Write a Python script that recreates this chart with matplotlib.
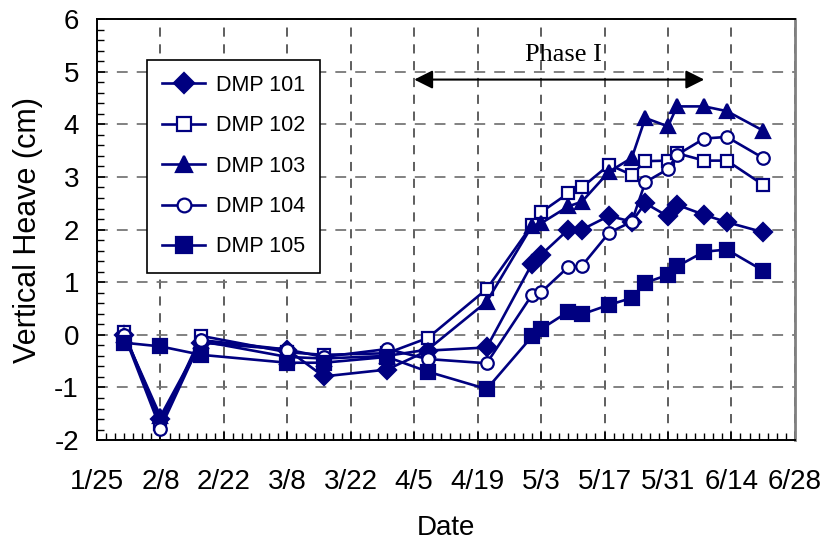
import numpy as np
import pandas as pd
import matplotlib
matplotlib.use("Agg")
import matplotlib.pyplot as plt
import matplotlib.dates as mdates
from matplotlib.ticker import FuncFormatter, MultipleLocator, FixedLocator

# survey dates (year 2001, non-leap)
dates = ["1/31", "2/8", "2/17", "3/8", "3/16", "3/30", "4/8", "4/21", "5/1", "5/3",
         "5/9", "5/12", "5/18", "5/23", "5/26", "5/31", "6/2", "6/8", "6/13", "6/21"]

dmp101 = [0.00, -1.60, -0.15, -0.28, -0.79, -0.66, -0.30, -0.24, 1.35, 1.52,
          2.00, 2.00, 2.26, 2.15, 2.50, 2.25, 2.47, 2.28, 2.14, 1.95]
dmp102 = [0.05, -1.70, -0.02, -0.33, -0.38, -0.35, -0.06, 0.87, 2.09, 2.33,
          2.69, 2.80, 3.23, 3.04, 3.30, 3.31, 3.45, 3.31, 3.31, 2.85]
dmp103 = [0.00, -1.55, -0.12, -0.42, -0.45, -0.40, -0.28, 0.63, 2.07, 2.12,
          2.44, 2.53, 3.10, 3.36, 4.12, 3.96, 4.34, 4.34, 4.25, 3.88]
dmp104 = [0.00, -1.78, -0.10, -0.28, -0.42, -0.27, -0.46, -0.54, 0.76, 0.81,
          1.29, 1.31, 1.94, 2.15, 2.90, 3.15, 3.42, 3.73, 3.76, 3.36]
dmp105 = [-0.15, -0.22, -0.38, -0.53, -0.53, -0.42, -0.70, -1.03, -0.03, 0.11,
          0.44, 0.39, 0.57, 0.70, 0.99, 1.14, 1.30, 1.58, 1.62, 1.22]

names = ["DMP 101", "DMP 102", "DMP 103", "DMP 104", "DMP 105"]
series = [dmp101, dmp102, dmp103, dmp104, dmp105]
markers = ["D", "s", "^", "o", "s"]
filled = [True, False, True, False, True]
sizes = [9, 9, 10, 9, 10]

t = pd.to_datetime([d + "/2001" for d in dates], format="%m/%d/%Y")

navy = "#000080"
plt.rcParams["font.family"] = ["Liberation Sans", "DejaVu Sans"]
plt.rcParams["axes.unicode_minus"] = False

fig = plt.figure(figsize=(8.22, 5.44), dpi=100)
ax = fig.add_axes([0.118, 0.191, 0.849, 0.774])

for name, vals, m, f, ms in zip(names, series, markers, filled, sizes):
    ax.plot(t, vals, color=navy, lw=1.9, marker=m, ms=ms,
            markerfacecolor=navy if f else "white", markeredgecolor=navy,
            markeredgewidth=1.6, label=name, zorder=3)

# axes ranges and ticks
start = pd.Timestamp("2001-01-25")
end = pd.Timestamp("2001-06-28")
ax.set_xlim(start, end)
ax.set_ylim(-2, 6)
ax.set_xticks(pd.date_range(start, end, freq="14D"))
ax.xaxis.set_minor_locator(FixedLocator(
    mdates.date2num(pd.date_range(start, end, freq="2D"))))
ax.xaxis.set_major_formatter(FuncFormatter(
    lambda x, _: f"{mdates.num2date(x).month}/{mdates.num2date(x).day}"))
ax.yaxis.set_major_locator(MultipleLocator(1))
ax.yaxis.set_minor_locator(MultipleLocator(0.2))

ax.tick_params(axis="both", which="both", direction="in", labelsize=20)
ax.tick_params(axis="both", which="major", length=6, width=1.2)
ax.tick_params(axis="both", which="minor", length=5, width=1.0)
ax.tick_params(axis="x", pad=21)
ax.tick_params(axis="y", pad=13)

ax.grid(True, axis="x", which="major", linestyle=(0, (6, 5)), color="#333333", lw=1.1)
ax.grid(True, axis="y", which="major", linestyle=(0, (6, 5)), color="#777777", lw=1.3)

for side in ["left", "bottom", "top"]:
    ax.spines[side].set_linewidth(1.4)
ax.spines["right"].set_color("#808080")
ax.spines["right"].set_linewidth(2)

ax.set_xlabel("Date", fontsize=20, labelpad=14)
ax.set_ylabel("Vertical Heave (cm)", fontsize=22, labelpad=8)

# Phase I span
ax.annotate("", xy=(pd.Timestamp("2001-04-05"), 4.85), xytext=(pd.Timestamp("2001-06-08"), 4.85),
            arrowprops=dict(arrowstyle="<|-|>", color="black", lw=1.5,
                            mutation_scale=28, shrinkA=0, shrinkB=0))
ax.text(pd.Timestamp("2001-05-08"), 5.32, "Phase I", ha="center", va="center",
        fontsize=19, family="Liberation Serif")

leg = ax.legend(loc="upper left", bbox_to_anchor=(0.072, 0.903), fontsize=15.5,
                frameon=True, fancybox=False, framealpha=1, edgecolor="black",
                handlelength=2.0, handletextpad=0.5, labelspacing=0.9,
                borderpad=0.7, borderaxespad=0, markerscale=1.1)
leg.get_frame().set_linewidth(1.2)

fig.savefig("out.png", dpi=100)
